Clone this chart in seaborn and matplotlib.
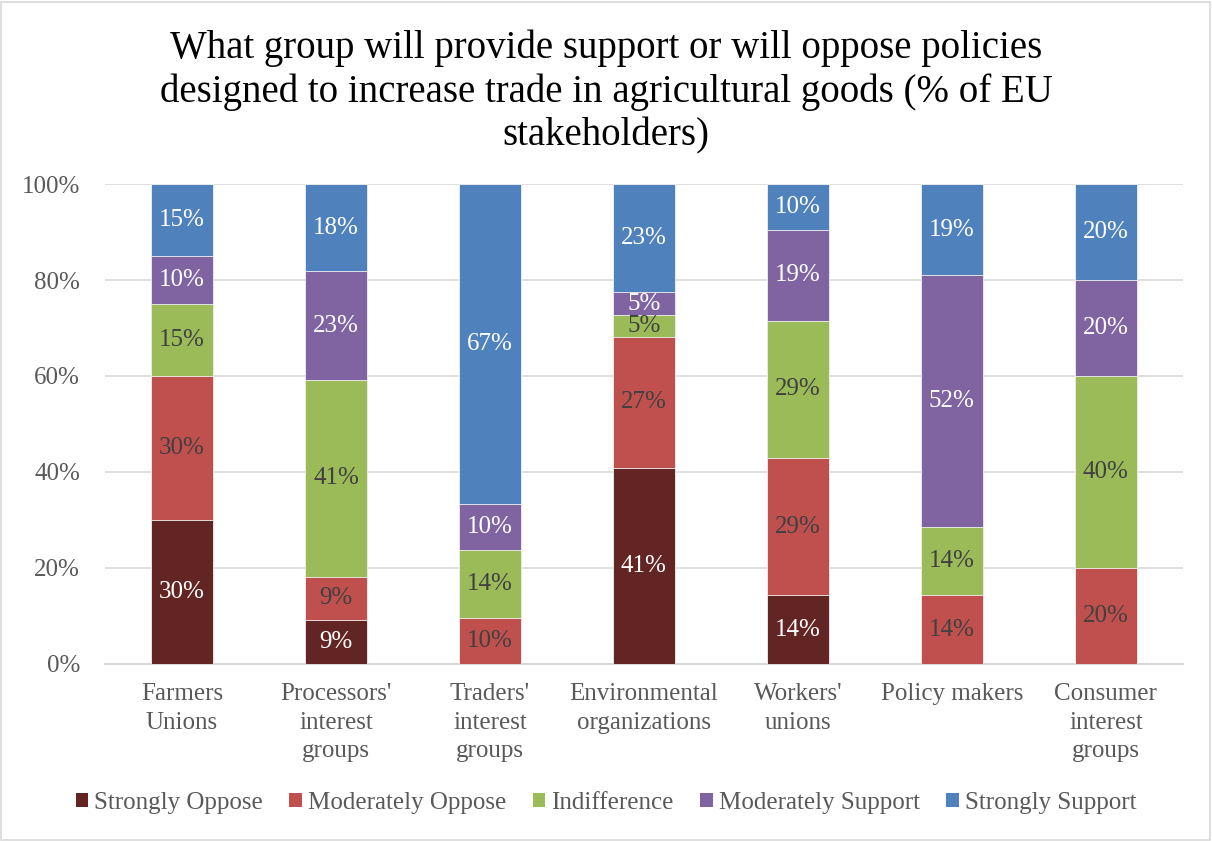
import numpy as np
import pandas as pd
import seaborn as sns
import matplotlib.pyplot as plt
from matplotlib.patches import Rectangle

# Stakeholder groups (x axis)
groups = [
    "Farmers\nUnions",
    "Processors'\ninterest\ngroups",
    "Traders'\ninterest\ngroups",
    "Environmental\norganizations",
    "Workers'\nunions",
    "Policy makers",
    "Consumer\ninterest\ngroups",
]

# Share of stakeholders (%) per response, stacked bottom to top
responses = ["Strongly Oppose", "Moderately Oppose", "Indifference",
             "Moderately Support", "Strongly Support"]
strongly_oppose = [30.0, 9.1, 0.0, 40.9, 14.3, 0.0, 0.0]
moderately_oppose = [30.0, 9.1, 9.5, 27.3, 28.6, 14.3, 20.0]
indifference = [15.0, 40.9, 14.3, 4.6, 28.6, 14.3, 40.0]
moderately_support = [10.0, 22.7, 9.5, 4.6, 19.0, 52.4, 20.0]
strongly_support = [15.0, 18.2, 66.7, 22.6, 9.5, 19.0, 20.0]

series = [strongly_oppose, moderately_oppose, indifference,
          moderately_support, strongly_support]
colors = ["#632523", "#C0504D", "#9BBB59", "#8064A2", "#4F81BD"]
label_colors = ["white", "#404040", "#404040", "white", "white"]

yticks = [0, 20, 40, 60, 80, 100]

# Long-form table with cumulative tops for the stacked layout
rows = []
for resp, vals in zip(responses, series):
    for g, v in zip(groups, vals):
        rows.append({"group": g, "response": resp, "value": v})
df = pd.DataFrame(rows)
df["response"] = pd.Categorical(df["response"], categories=responses, ordered=True)
df["group"] = pd.Categorical(df["group"], categories=groups, ordered=True)
df = df.sort_values(["group", "response"])
df["top"] = df.groupby("group", observed=True)["value"].cumsum()
df["bottom"] = df["top"] - df["value"]

sns.set_theme(style="white")
font = ["Liberation Serif", "DejaVu Serif"]
plt.rcParams["font.family"] = font

fig = plt.figure(figsize=(12.12, 8.41), dpi=100)
ax = fig.add_axes([0.0866, 0.2105, 0.8894, 0.5707])

# Draw cumulative totals from the top layer down so lower layers sit in front
for resp, color in reversed(list(zip(responses, colors))):
    sub = df[df["response"] == resp]
    sns.barplot(data=sub, x="group", y="top", order=groups, color=color,
                width=0.4, ax=ax, saturation=1, edgecolor="#F2F2F2",
                linewidth=0.6, zorder=3)

# Segment value labels
xpos = {g: i for i, g in enumerate(groups)}
for _, r in df.iterrows():
    if r["value"] <= 0:
        continue
    i = responses.index(r["response"])
    ax.text(xpos[r["group"]], r["bottom"] + r["value"] / 2,
            f"{r['value']:.0f}%", ha="center", va="center",
            fontsize=18, color=label_colors[i], zorder=5)

ax.set_ylim(0, 100)
ax.set_xlim(-0.5, len(groups) - 0.5)
ax.set_yticks(yticks)
ax.set_yticklabels([f"{t}%" for t in yticks])
ax.set_xlabel("")
ax.set_ylabel("")
ax.yaxis.grid(True, color="#D9D9D9", linewidth=1.2, zorder=0)
ax.set_axisbelow(True)
for side in ["left", "right", "top"]:
    ax.spines[side].set_visible(False)
ax.spines["bottom"].set_color("#D9D9D9")
ax.spines["bottom"].set_linewidth(1.5)
ax.tick_params(axis="both", length=0, labelsize=18, labelcolor="#595959")
ax.tick_params(axis="y", pad=18)
ax.tick_params(axis="x", pad=14)
for lbl in ax.get_xticklabels():
    lbl.set_linespacing(1.38)

fig.text(0.5, 1 - 92 / 841,
         "What group will provide support or will oppose policies\n"
         "designed to increase trade in agricultural goods (% of EU\n"
         "stakeholders)", ha="center", va="center", fontsize=28,
         color="black", linespacing=1.22)

handles = [Rectangle((0, 0), 1, 1, facecolor=c, edgecolor="none") for c in colors]
leg = fig.legend(handles, responses, loc="center", bbox_to_anchor=(0.5, 1 - 803 / 841),
                 ncol=5, frameon=False, fontsize=18, handlelength=0.5,
                 handleheight=0.5, handletextpad=0.25, columnspacing=1.05)
for t in leg.get_texts():
    t.set_color("#595959")

fig.patches.append(Rectangle((0.001, 0.001), 0.997, 0.997, transform=fig.transFigure,
                             fill=False, edgecolor="#D9D9D9", linewidth=1.2))

fig.savefig("out.png", dpi=100)
